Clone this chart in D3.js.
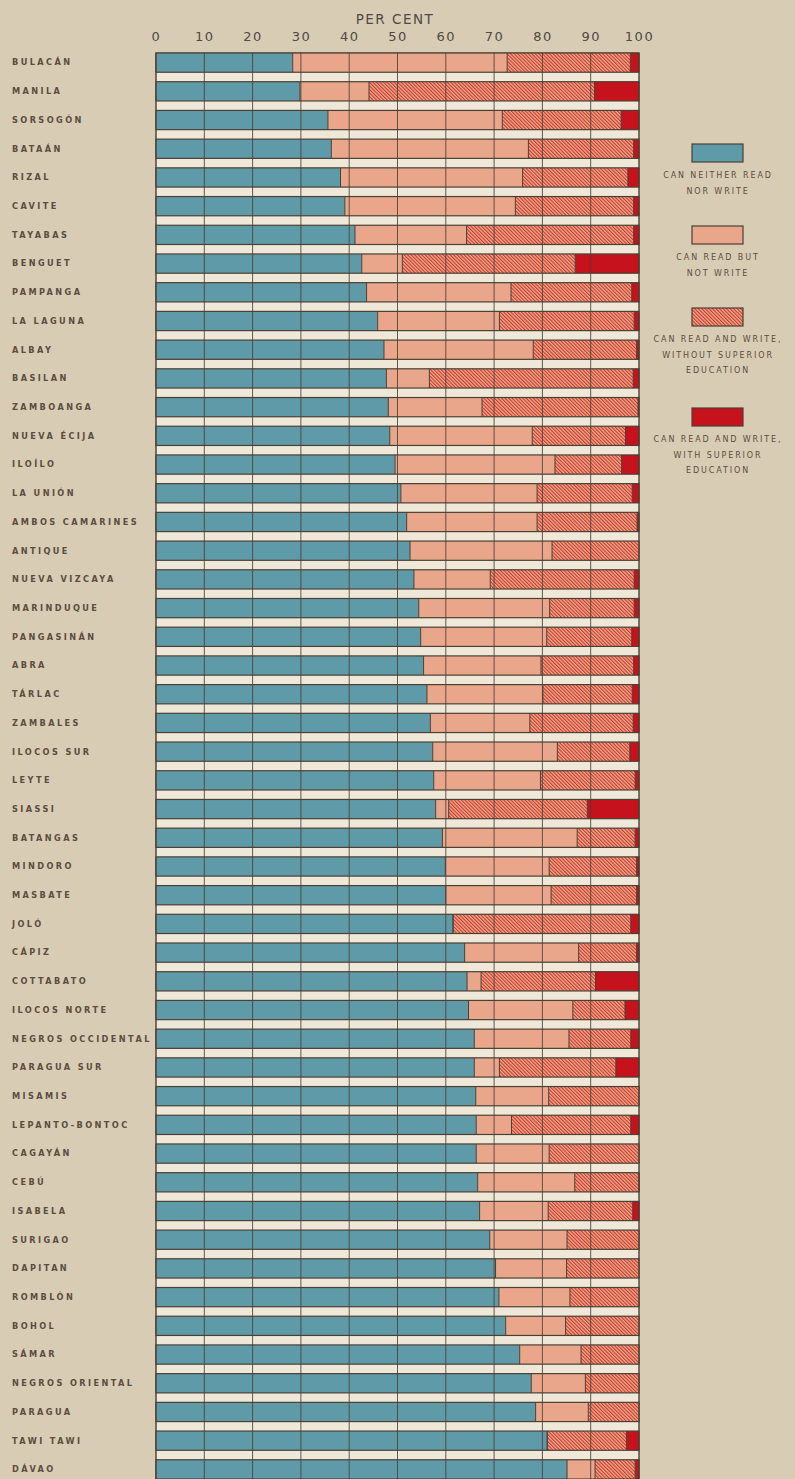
<!DOCTYPE html>
<html>
<head>
<meta charset="utf-8">
<script src="https://cdn.jsdelivr.net/npm/d3@7"></script>
<style>
  html, body { margin: 0; padding: 0; background: #d8ccb4; }
  svg { display: block; }
  text { font-family: "DejaVu Sans", sans-serif; }
</style>
</head>
<body>
<svg id="chart" width="795" height="1479"></svg>
<script>
// provinces, ordered as on the plate (by share who can neither read nor write)
const provinces = [
  'BULACÁN', 'MANILA', 'SORSOGÓN', 'BATAÁN', 'RIZAL', 'CAVITE', 'TAYABAS', 'BENGUET',
  'PAMPANGA', 'LA LAGUNA', 'ALBAY', 'BASILAN', 'ZAMBOANGA', 'NUEVA ÉCIJA', 'ILOÍLO',
  'LA UNIÓN', 'AMBOS CAMARINES', 'ANTIQUE', 'NUEVA VIZCAYA', 'MARINDUQUE', 'PANGASINÁN',
  'ABRA', 'TÁRLAC', 'ZAMBALES', 'ILOCOS SUR', 'LEYTE', 'SIASSI', 'BATANGAS', 'MINDORO',
  'MASBATE', 'JOLÓ', 'CÁPIZ', 'COTTABATO', 'ILOCOS NORTE', 'NEGROS OCCIDENTAL',
  'PARAGUA SUR', 'MISAMIS', 'LEPANTO-BONTOC', 'CAGAYÁN', 'CEBÚ', 'ISABELA', 'SURIGAO',
  'DAPITAN', 'ROMBLÓN', 'BOHOL', 'SÁMAR', 'NEGROS ORIENTAL', 'PARAGUA', 'TAWI TAWI', 'DÁVAO'
];

// per cent in each class
const neither = [
  28.3, 29.8, 35.6, 36.3, 38.2, 39.1, 41.2, 42.6, 43.6, 45.9, 47.2, 47.7, 48.1, 48.4, 49.5,
  50.7, 51.9, 52.6, 53.4, 54.4, 54.8, 55.4, 56.1, 56.8, 57.3, 57.5, 57.9, 59.3, 59.9,
  60.0, 61.5, 63.9, 64.4, 64.7, 65.9, 65.9, 66.2, 66.3, 66.3, 66.6, 67.0, 69.1,
  70.3, 71.0, 72.4, 75.3, 77.7, 78.6, 81.0, 85.1
];
const readOnly = [
  44.4, 14.3, 36.1, 40.8, 37.7, 35.3, 23.1, 8.4, 29.9, 25.2, 30.9, 8.9, 19.4, 29.5, 33.1,
  28.2, 27.0, 29.4, 15.8, 27.1, 26.1, 24.3, 24.0, 20.6, 25.8, 22.1, 2.7, 27.9, 21.5,
  21.8, 0, 23.6, 2.9, 21.6, 19.6, 5.2, 15.1, 7.3, 15.1, 20.1, 14.2, 16.0,
  14.7, 14.7, 12.4, 12.7, 11.2, 10.9, 0, 5.8
];
const readWrite = [
  25.5, 46.7, 24.6, 21.8, 21.8, 24.5, 34.6, 35.8, 25.0, 27.9, 21.4, 42.2, 32.3, 19.3, 13.8,
  19.7, 20.7, 18.0, 29.8, 17.5, 17.6, 19.2, 18.5, 21.4, 15.0, 19.6, 28.7, 12.0, 18.1,
  17.7, 36.8, 12.0, 23.7, 10.8, 12.8, 24.1, 18.7, 24.7, 18.6, 13.3, 17.5, 14.9,
  15.0, 14.3, 15.2, 12.0, 11.1, 10.5, 16.4, 8.3
];
const superior = [
  1.8, 9.2, 3.7, 1.1, 2.3, 1.1, 1.1, 13.2, 1.5, 1.0, 0.5, 1.2, 0.2, 2.8, 3.6,
  1.4, 0.4, 0, 1.0, 1.0, 1.5, 1.1, 1.4, 1.2, 1.9, 0.8, 10.7, 0.8, 0.5,
  0.5, 1.7, 0.5, 9.0, 2.9, 1.7, 4.8, 0, 1.7, 0, 0, 1.3, 0,
  0, 0, 0, 0, 0, 0, 2.6, 0.8
];
const ticks = [0, 10, 20, 30, 40, 50, 60, 70, 80, 90, 100];

const keys = ['neither', 'readOnly', 'readWrite', 'superior'];
const legendText = [
  ['CAN NEITHER READ', 'NOR WRITE'],
  ['CAN READ BUT', 'NOT WRITE'],
  ['CAN READ AND WRITE,', 'WITHOUT SUPERIOR', 'EDUCATION'],
  ['CAN READ AND WRITE,', 'WITH SUPERIOR', 'EDUCATION']
];

const table = provinces.map((p, i) => ({
  province: p,
  neither: neither[i],
  readOnly: readOnly[i],
  readWrite: readWrite[i],
  superior: superior[i]
}));

const svg = d3.select('#chart');
const ink = '#4a4036';

const defs = svg.append('defs');
const hatch = defs.append('pattern')
  .attr('id', 'hatch')
  .attr('patternUnits', 'userSpaceOnUse')
  .attr('width', 2.5).attr('height', 2.5)
  .attr('patternTransform', 'rotate(-45)');
hatch.append('rect').attr('width', 2.5).attr('height', 2.5).attr('fill', '#eea88c');
hatch.append('rect').attr('width', 1.1).attr('height', 2.5).attr('fill', '#c8392c');

const fill = {
  neither: '#5f9aa8',
  readOnly: '#eaa68a',
  readWrite: 'url(#hatch)',
  superior: '#c5121d'
};

const x = d3.scaleLinear().domain([0, 100]).range([156, 639]);
const y = d3.scaleBand().domain(provinces).range([53, 1479]).paddingInner(0.33).paddingOuter(0);

// plot background with the light strips between bars
svg.append('rect')
  .attr('x', x(0)).attr('y', y.range()[0])
  .attr('width', x(100) - x(0)).attr('height', 1479 - 53 + 10)
  .attr('fill', '#efe8d8')
  .attr('stroke', ink).attr('stroke-width', 1);

const stack = d3.stack().keys(keys);
const series = stack(table);

svg.append('g').selectAll('g')
  .data(series)
  .join('g')
  .attr('fill', d => fill[d.key])
  .selectAll('rect')
  .data(d => d.filter(s => s[1] - s[0] > 0))
  .join('rect')
  .attr('x', d => x(d[0]))
  .attr('y', d => y(d.data.province))
  .attr('width', d => x(d[1]) - x(d[0]))
  .attr('height', y.bandwidth());

// bar outlines
svg.append('g').selectAll('rect')
  .data(provinces)
  .join('rect')
  .attr('x', x(0)).attr('y', d => y(d))
  .attr('width', x(100) - x(0)).attr('height', y.bandwidth())
  .attr('fill', 'none').attr('stroke', ink).attr('stroke-width', 1.2);

// segment borders
svg.append('g').selectAll('line')
  .data(series.slice(0, 3).flatMap(s => s.filter(d => d[1] > 0 && d[1] < 100)))
  .join('line')
  .attr('x1', d => x(d[1])).attr('x2', d => x(d[1]))
  .attr('y1', d => y(d.data.province)).attr('y2', d => y(d.data.province) + y.bandwidth())
  .attr('stroke', ink).attr('stroke-width', 1);

// vertical grid through everything
svg.append('g').selectAll('line')
  .data(ticks)
  .join('line')
  .attr('x1', d => x(d)).attr('x2', d => x(d))
  .attr('y1', 53).attr('y2', 1479)
  .attr('stroke', ink).attr('stroke-width', 1).attr('opacity', 0.85);

// top axis
const axis = d3.axisTop(x).tickValues(ticks).tickSize(0).tickPadding(6);
const ag = svg.append('g').attr('transform', 'translate(0,47)').call(axis);
ag.select('.domain').remove();
ag.selectAll('text')
  .attr('font-size', 13)
  .attr('letter-spacing', 1.5)
  .attr('fill', '#4e4a44')
  .attr('dy', 0);

svg.append('text')
  .attr('x', 395).attr('y', 24)
  .attr('text-anchor', 'middle')
  .attr('font-size', 13.5)
  .attr('letter-spacing', 1.5)
  .attr('fill', '#4e4a44')
  .text('PER CENT');

// province names
svg.append('g').selectAll('text')
  .data(provinces)
  .join('text')
  .attr('x', 12)
  .attr('y', d => y(d) + y.bandwidth() / 2)
  .attr('dy', '0.35em')
  .attr('font-size', 8.2)
  .attr('font-weight', 'bold')
  .attr('letter-spacing', 2.4)
  .attr('fill', '#5c4d40')
  .text(d => d);

// legend
const legendY = [144, 226, 308, 408];
const lg = svg.append('g').selectAll('g')
  .data(keys)
  .join('g')
  .attr('transform', (d, i) => `translate(718,${legendY[i]})`);

lg.append('rect')
  .attr('x', -26).attr('y', 0)
  .attr('width', 51).attr('height', 18)
  .attr('fill', d => fill[d])
  .attr('stroke', ink).attr('stroke-width', 1.2);

lg.selectAll('text')
  .data((d, i) => legendText[i])
  .join('text')
  .attr('x', 0)
  .attr('y', (d, j) => 34 + j * 15.5)
  .attr('text-anchor', 'middle')
  .attr('font-size', 8)
  .attr('letter-spacing', 1.9)
  .attr('fill', '#5c4d40')
  .text(d => d);
</script>
</body>
</html>
